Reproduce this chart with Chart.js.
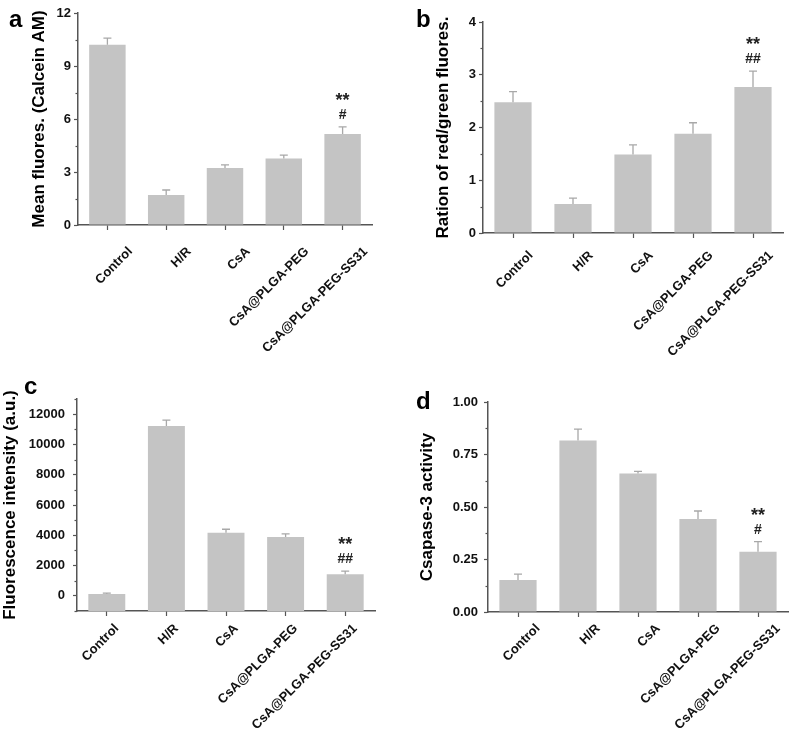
<!DOCTYPE html>
<html>
<head>
<meta charset="utf-8">
<script src="https://cdn.jsdelivr.net/npm/chart.js@4.4.1/dist/chart.umd.min.js"></script>
<style>
  html, body { margin:0; padding:0; background:#ffffff; }
  body { width:797px; height:734px; position:relative; overflow:hidden; }
  .panel { position:absolute; }
</style>
</head>
<body>
<div class="panel" style="left:0;top:0;width:398px;height:362px"><canvas id="ca"></canvas></div>
<div class="panel" style="left:398px;top:0;width:399px;height:362px"><canvas id="cb"></canvas></div>
<div class="panel" style="left:0;top:362px;width:398px;height:372px"><canvas id="cc"></canvas></div>
<div class="panel" style="left:398px;top:362px;width:399px;height:372px"><canvas id="cd"></canvas></div>
<script>
// ---------------- DATA ----------------
const categories = ['Control', 'H/R', 'CsA', 'CsA@PLGA-PEG', 'CsA@PLGA-PEG-SS31'];

const calceinMean = [10.2, 1.70, 3.23, 3.77, 5.15];
const calceinErr  = [0.38, 0.28, 0.17, 0.19, 0.40];
const calceinTicks = [0, 3, 6, 9, 12];
const calceinStars = ['', '', '', '', '**'];
const calceinHash  = ['', '', '', '', '#'];

const ratioMean = [2.48, 0.55, 1.49, 1.88, 2.77];
const ratioErr  = [0.20, 0.11, 0.18, 0.21, 0.30];
const ratioTicks = [0, 1, 2, 3, 4];
const ratioStars = ['', '', '', '', '**'];
const ratioHash  = ['', '', '', '', '##'];

const fluorMean = [130, 11210, 4175, 3890, 1430];
const fluorErr  = [50, 390, 225, 200, 200];
const fluorTicks = [0, 2000, 4000, 6000, 8000, 10000, 12000];
const fluorStars = ['', '', '', '', '**'];
const fluorHash  = ['', '', '', '', '##'];

const caspMean = [0.152, 0.817, 0.659, 0.443, 0.287];
const caspErr  = [0.028, 0.054, 0.011, 0.038, 0.048];
const caspTicks = [0, 0.25, 0.5, 0.75, 1.0];
const caspStars = ['', '', '', '', '**'];
const caspHash  = ['', '', '', '', '#'];

// ---------------- STYLE ----------------
const FONT = "'Liberation Sans', Arial, Helvetica, sans-serif";
const AXIS = '#555555';
const BAR = '#c4c4c4';
const ERR = '#a8a8a8';
const TXT = '#111111';

const overlay = {
  id: 'overlay',
  afterDatasetsDraw(chart, args, o) {
    const ctx = chart.ctx;
    const x = chart.scales.x, y = chart.scales.y;
    const meta = chart.getDatasetMeta(0);
    ctx.save();
    // error bars
    ctx.strokeStyle = ERR; ctx.lineWidth = 1.3;
    o.means.forEach((m, i) => {
      const px = meta.data[i].x;
      const y0 = y.getPixelForValue(m);
      const y1 = y.getPixelForValue(m + o.errs[i]);
      ctx.beginPath();
      ctx.moveTo(px, y0); ctx.lineTo(px, y1);
      ctx.moveTo(px - 4, y1); ctx.lineTo(px + 4, y1);
      ctx.stroke();
      // significance marks
      ctx.fillStyle = '#222';
      ctx.textAlign = 'center';
      ctx.textBaseline = 'middle';
      if (o.hash[i]) {
        ctx.font = 'bold 14px ' + FONT;
        ctx.fillText(o.hash[i], px, y1 - 12);
      }
      if (o.stars[i]) {
        ctx.font = 'bold 18px ' + FONT;
        ctx.fillText(o.stars[i], px, y1 - 26);
      }
    });
    // minor y ticks
    ctx.strokeStyle = AXIS; ctx.lineWidth = 1.2;
    const vals = o.ticks;
    const step = vals[1] - vals[0];
    for (let v = vals[0] - step / 2; v <= y.max + 1e-9; v += step) {
      if (v < y.min - 1e-9) continue;
      const py = Math.round(y.getPixelForValue(v)) + 0.5;
      ctx.beginPath(); ctx.moveTo(x.left, py); ctx.lineTo(x.left - 2.5, py); ctx.stroke();
    }
    // panel letter
    ctx.fillStyle = '#000';
    ctx.font = 'bold 24px ' + FONT;
    ctx.textAlign = 'left'; ctx.textBaseline = 'alphabetic';
    ctx.fillText(o.letter, o.lx, o.ly);
    ctx.restore();
  }
};

function makeChart(id, cfg) {
  const yAxis = {
    min: cfg.min, max: cfg.max,
    afterBuildTicks: s => { s.ticks = cfg.ticks.map(v => ({ value: v })); },
    afterFit: s => { s.width = cfg.yWidth; },
    grid: { drawOnChartArea: false, drawTicks: true, tickLength: 4, tickColor: AXIS, tickWidth: 1.2 },
    border: { display: true, color: AXIS, width: 1.5 },
    ticks: {
      color: TXT, padding: cfg.tickPad,
      font: { family: FONT, size: 13, weight: 'bold' },
      callback: v => cfg.fmt(v)
    },
    title: {
      display: true, text: cfg.title, color: '#000',
      font: { family: FONT, size: 17, weight: 'bold' },
      padding: { top: cfg.titlePad, bottom: 0 }
    }
  };
  const xAxis = {
    offset: true,
    afterFit: s => { s.height = cfg.xHeight; },
    grid: { offset: false, drawOnChartArea: false, drawTicks: true, tickLength: 5, tickColor: AXIS, tickWidth: 1.2 },
    border: { display: true, color: AXIS, width: 1.5 },
    ticks: {
      color: TXT, autoSkip: false, minRotation: 45, maxRotation: 45,
      labelOffset: cfg.lblOff, padding: cfg.lblPad,
      font: { family: FONT, size: 13, weight: 'bold' }
    }
  };
  return new Chart(document.getElementById(id), {
    type: 'bar',
    data: {
      labels: categories,
      datasets: [{
        data: cfg.means,
        base: cfg.base,
        backgroundColor: BAR,
        borderWidth: 0,
        barPercentage: 0.62,
        categoryPercentage: 1.0
      }]
    },
    options: {
      responsive: true, maintainAspectRatio: false, animation: false,
      layout: { padding: cfg.pad },
      scales: { x: xAxis, y: yAxis },
      plugins: {
        legend: { display: false }, tooltip: { enabled: false },
        overlay: {
          means: cfg.means, errs: cfg.errs, stars: cfg.stars, hash: cfg.hash,
          ticks: cfg.ticks, letter: cfg.letter, lx: cfg.lx, ly: cfg.ly
        }
      }
    },
    plugins: [overlay]
  });
}

makeChart('ca', {
  means: calceinMean, errs: calceinErr, stars: calceinStars, hash: calceinHash,
  ticks: calceinTicks, min: 0, max: 12, base: 0, fmt: v => String(v),
  title: 'Mean fluores. (Calcein AM)', titlePad: 29, yWidth: 78, tickPad: 3,
  xHeight: 137, pad: { left: 0, right: 26, top: 13, bottom: 0 },
  lblOff: 23, lblPad: 14,
  letter: 'a', lx: 9, ly: 27
});
makeChart('cb', {
  means: ratioMean, errs: ratioErr, stars: ratioStars, hash: ratioHash,
  ticks: ratioTicks, min: 0, max: 4, base: 0, fmt: v => String(v),
  title: 'Ration of red/green fluores.', titlePad: 35, yWidth: 85, tickPad: 3,
  xHeight: 129, pad: { left: 0, right: 14, top: 22, bottom: 0 },
  lblOff: 18, lblPad: 10,
  letter: 'b', lx: 18, ly: 27
});
makeChart('cc', {
  means: fluorMean, errs: fluorErr, stars: fluorStars, hash: fluorHash,
  ticks: fluorTicks, min: -1000, max: 13000, base: -1000, fmt: v => String(v),
  title: 'Fluorescence intensity (a.u.)', titlePad: 0, yWidth: 77, tickPad: 8,
  xHeight: 123, pad: { left: 0, right: 23, top: 37, bottom: 0 },
  lblOff: 10, lblPad: 5,
  letter: 'c', lx: 24, ly: 32
});
makeChart('cd', {
  means: caspMean, errs: caspErr, stars: caspStars, hash: caspHash,
  ticks: caspTicks, min: 0, max: 1, base: 0, fmt: v => v.toFixed(2),
  title: 'Csapase-3 activity', titlePad: 19, yWidth: 90, tickPad: 6,
  xHeight: 122, pad: { left: 0, right: 9, top: 40, bottom: 0 },
  lblOff: 20, lblPad: 4,
  letter: 'd', lx: 18, ly: 47
});
</script>
</body>
</html>
